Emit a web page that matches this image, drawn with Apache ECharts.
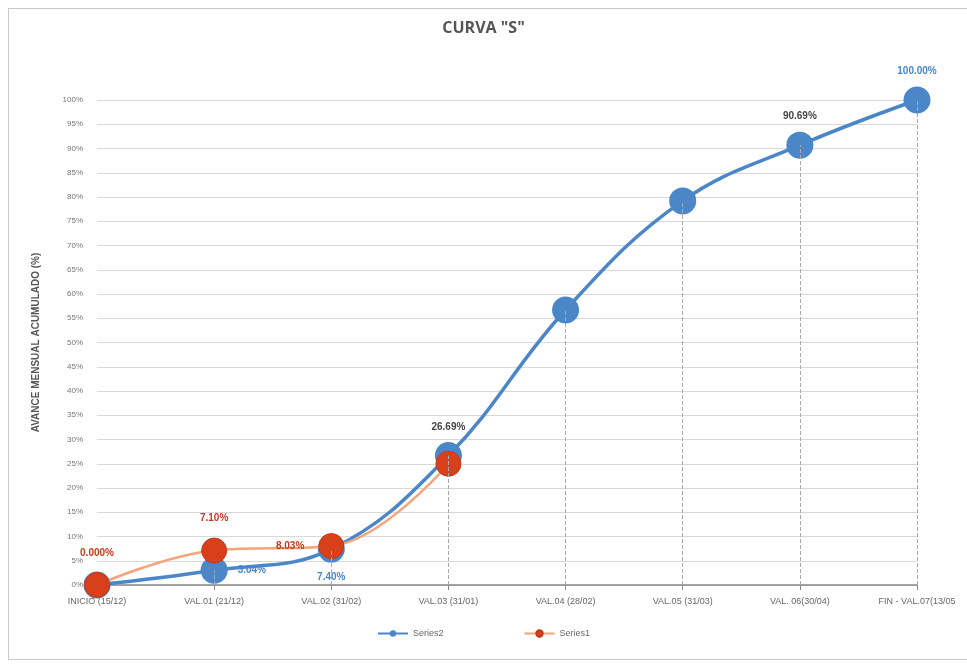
<!DOCTYPE html>
<html>
<head>
<meta charset="utf-8">
<script src="https://cdn.jsdelivr.net/npm/echarts@6/dist/echarts.min.js"></script>
<style>
  html, body { margin: 0; padding: 0; background: #fff; }
  #chart { width: 967px; height: 667px; }
  #frame { position: absolute; left: 8px; top: 8px; width: 965px; height: 652px; border: 1px solid #c8c8c8; box-sizing: border-box; pointer-events: none; }
</style>
</head>
<body>
<div id="chart"></div>
<div id="frame"></div>
<script>
// categorias del eje X
const categories = ['INICIO (15/12)', 'VAL.01 (21/12)', 'VAL.02 (31/02)', 'VAL.03 (31/01)', 'VAL.04 (28/02)', 'VAL.05 (31/03)', 'VAL. 06(30/04)', 'FIN - VAL.07(13/05']
// avance programado (azul)
const series2 = [0, 3.04, 7.40, 26.69, 56.7, 79.2, 90.69, 100]
const series2Labels = ['', '3.04%', '7.40%', '26.69%', '', '', '90.69%', '100.00%']
// avance real (naranja)
const series1 = [0, 7.10, 8.03, 25.0]
const series1Labels = ['0.000%', '7.10%', '8.03%', '']

const chart = echarts.init(document.getElementById('chart'))

const blue = '#4a86c8'
const orange = '#f4a37a'
const red = '#d8401c'

// lineas de caida punteadas desde el eje hasta cada punto azul
const dropLines = categories.map((c, i) => [
  { coord: [c, 0] },
  { coord: [c, series2[i]] }
])

const labelPos2 = ['top', 'right', 'bottom', 'top', 'top', 'top', 'top', 'top']
const labelColor2 = ['#555', '#4a86c8', '#4a86c8', '#444', '#444', '#444', '#444', '#4a86c8']
const labelPos1 = ['top', 'top', 'left', 'top']

chart.setOption({
  animation: false,
  title: {
    text: 'CURVA "S"',
    left: 'center',
    top: 15,
    textStyle: { fontFamily: 'Open Sans', fontSize: 16, fontWeight: 'bold', color: '#555' }
  },
  legend: {
    bottom: 24,
    left: 'center',
    itemGap: 80,
    itemWidth: 30,
    itemHeight: 8,
    textStyle: { fontFamily: 'Liberation Sans', fontSize: 9, color: '#666' },
    data: ['Series2', 'Series1']
  },
  grid: { left: 97, right: 50, top: 100, bottom: 82 },
  xAxis: {
    type: 'category',
    data: categories,
    boundaryGap: false,
    axisLine: { lineStyle: { color: '#888', width: 1.5 } },
    axisTick: { show: true, alignWithLabel: true, lineStyle: { color: '#888' } },
    axisLabel: { fontFamily: 'Liberation Sans', fontSize: 9, color: '#666', margin: 12, interval: 0 },
    splitLine: { show: false }
  },
  yAxis: {
    type: 'value',
    min: 0,
    max: 100,
    interval: 5,
    name: 'AVANCE MENSUAL ACUMULADO (%)',
    nameLocation: 'middle',
    nameGap: 56,
    nameTextStyle: { fontFamily: 'Liberation Sans', fontSize: 10, fontWeight: 'bold', color: '#555' },
    axisLine: { show: false },
    axisTick: { show: false },
    axisLabel: { formatter: '{value}%', fontFamily: 'Liberation Sans', fontSize: 8, color: '#777', margin: 14 },
    splitLine: { lineStyle: { color: '#d9d9d9', width: 1 } }
  },
  series: [
    {
      name: 'Series2',
      type: 'line',
      smooth: 0.4,
      data: series2.map((v, i) => ({
        value: v,
        label: {
          show: series2Labels[i] !== '',
          formatter: series2Labels[i],
          position: labelPos2[i],
          color: labelColor2[i],
          distance: 10
        }
      })),
      symbol: 'circle',
      symbolSize: 27,
      lineStyle: { color: blue, width: 3.5 },
      itemStyle: { color: blue },
      label: { fontFamily: 'Liberation Sans', fontSize: 10, fontWeight: 'bold' },
      markLine: {
        silent: true,
        symbol: 'none',
        label: { show: false },
        lineStyle: { color: '#aaa', type: 'dashed', width: 1 },
        data: dropLines
      },
      z: 2
    },
    {
      name: 'Series1',
      type: 'line',
      smooth: 0.4,
      data: series1.map((v, i) => ({
        value: v,
        label: {
          show: series1Labels[i] !== '',
          formatter: series1Labels[i],
          position: labelPos1[i],
          distance: 14
        }
      })),
      symbol: 'circle',
      symbolSize: 25,
      lineStyle: { color: orange, width: 2.5 },
      itemStyle: { color: red, borderColor: '#c0391a', borderWidth: 1 },
      label: { fontFamily: 'Liberation Sans', fontSize: 10, fontWeight: 'bold', color: '#c9381a' },
      z: 3
    }
  ]
})
</script>
</body>
</html>
